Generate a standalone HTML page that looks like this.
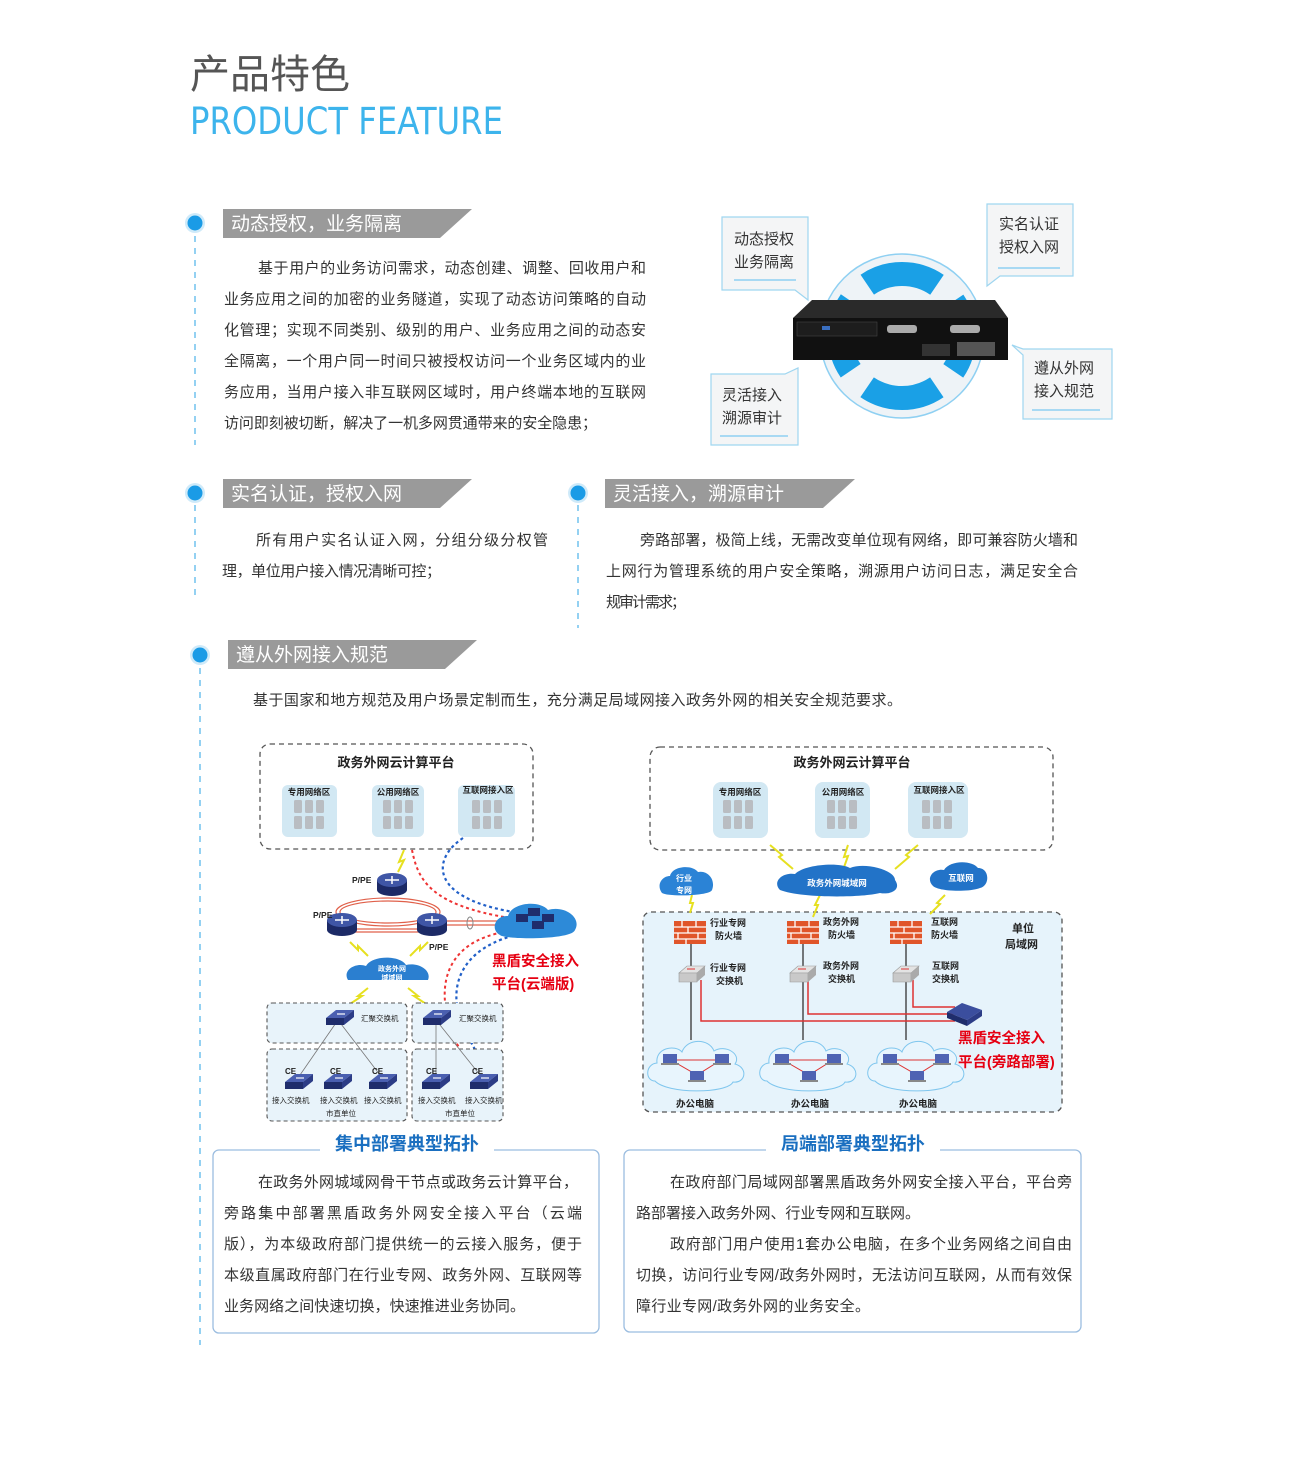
<!DOCTYPE html>
<html><head><meta charset="utf-8"><style>
html,body{margin:0;padding:0;background:#fff}
svg{display:block}
text{font-family:"Liberation Sans","Noto Sans CJK SC",sans-serif}
.p{font-size:15px;fill:#333}
.h{font-size:19px;fill:#fff}
.b{font-weight:bold}
</style></head><body>
<svg width="1300" height="1467" viewBox="0 0 1300 1467" xmlns="http://www.w3.org/2000/svg">
<defs>
 <g id="dot"><circle r="10" fill="#cfeaf9"/><circle r="7.5" fill="#1a9be6"/></g>
 <g id="srv">
  <rect x="0" y="0" width="8" height="13" rx="1.5" fill="#b9bdc2"/><rect x="11" y="0" width="8" height="13" rx="1.5" fill="#b9bdc2"/><rect x="22" y="0" width="8" height="13" rx="1.5" fill="#b9bdc2"/>
  <rect x="0" y="16" width="8" height="13" rx="1.5" fill="#b9bdc2"/><rect x="11" y="16" width="8" height="13" rx="1.5" fill="#b9bdc2"/><rect x="22" y="16" width="8" height="13" rx="1.5" fill="#b9bdc2"/>
 </g>
 <g id="router"><rect x="-15" y="-4" width="30" height="10" fill="#1c2a66"/><ellipse cx="0" cy="6" rx="15" ry="6" fill="#1c2a66"/><ellipse cx="0" cy="-4" rx="15" ry="7" fill="#3f56a6"/><path d="M-7 -4h14M0 -8v8" stroke="#fff" stroke-width="1.5"/></g>
 <g id="sw"><path d="M-14 -2 L-4 -10 L14 -10 L4 -2Z" fill="#4a5fb0"/><path d="M-14 -2 L4 -2 L4 5 L-14 5Z" fill="#1f2d6c"/><path d="M4 -2 L14 -10 L14 -3 L4 5Z" fill="#2c3c86"/><path d="M-3 -6h8" stroke="#fff" stroke-width="1.2"/></g>
 <g id="fw"><rect x="0" y="0" width="32" height="23" fill="#e0552a"/><path d="M0 6h32M0 12h32M0 18h32M8 0v6M22 0v6M14 6v6M4 12v6M24 12v6M12 18v5" stroke="#fff" stroke-width="1.3"/></g>
 <g id="gsw"><path d="M-13 -3 L-5 -10 L13 -10 L5 -3Z" fill="#e3e3e3" stroke="#999" stroke-width=".6"/><path d="M-13 -3 H5 V6 H-13Z" fill="#c9c9c9" stroke="#999" stroke-width=".6"/><path d="M5 -3 L13 -10 V-1 L5 6Z" fill="#aaa"/><path d="M-5 -7h8" stroke="#d33" stroke-width="1"/></g>
 <g id="cloudpc"><path d="M-42 15 C-52 15 -52 -2 -40 -3 C-42 -18 -22 -22 -15 -14 C-10 -28 12 -28 17 -15 C28 -22 45 -12 38 -2 C52 2 48 18 36 16 C30 28 -30 28 -42 15Z" fill="#e8f5fd" stroke="#7fc6ee" stroke-width="1"/>
  <path d="M-26 -6 L24 -6 L0 9Z" fill="none" stroke="#d33" stroke-width="1"/>
  <rect x="-34" y="-12" width="14" height="9" fill="#4f63b3"/><rect x="18" y="-12" width="14" height="9" fill="#4f63b3"/><rect x="-7" y="5" width="14" height="9" fill="#4f63b3"/>
  <rect x="-36" y="-3" width="18" height="2" fill="#888"/><rect x="16" y="-3" width="18" height="2" fill="#888"/><rect x="-9" y="14" width="18" height="2" fill="#888"/></g>
</defs>

<!-- Title -->
<text x="190" y="88" font-size="40" fill="#555">产品特色</text>
<text x="190" y="134" font-size="37" fill="#3db4ec" textLength="313" lengthAdjust="spacingAndGlyphs" style="font-family:'DejaVu Sans',sans-serif">PRODUCT FEATURE</text>

<!-- dashed vertical guides -->
<g stroke="#5bb8ea" stroke-width="1.3" stroke-dasharray="6,6">
<line x1="195" y1="236" x2="195" y2="445"/>
<line x1="195" y1="505" x2="195" y2="595"/>
<line x1="578" y1="505" x2="578" y2="628"/>
<line x1="200" y1="668" x2="200" y2="1345"/>
</g>
<use href="#dot" x="195" y="223"/><use href="#dot" x="195" y="493"/><use href="#dot" x="578" y="493"/><use href="#dot" x="200" y="655"/>

<!-- section headers -->
<path d="M223 209 H472 L440 238 H223Z" fill="#9a9a9a"/>
<text x="231" y="230" class="h">动态授权，业务隔离</text>
<path d="M223 479 H472 L440 508 H223Z" fill="#9a9a9a"/>
<text x="231" y="500" class="h">实名认证，授权入网</text>
<path d="M605 479 H855 L823 508 H605Z" fill="#9a9a9a"/>
<text x="613" y="500" class="h">灵活接入，溯源审计</text>
<path d="M228 640 H477 L445 669 H228Z" fill="#9a9a9a"/>
<text x="236" y="661" class="h">遵从外网接入规范</text>

<!-- paragraph 1 -->
<g class="p">
<text x="258" y="273" textLength="388">基于用户的业务访问需求，动态创建、调整、回收用户和</text>
<text x="224" y="304" textLength="422">业务应用之间的加密的业务隧道，实现了动态访问策略的自动</text>
<text x="224" y="335" textLength="422">化管理；实现不同类别、级别的用户、业务应用之间的动态安</text>
<text x="224" y="366" textLength="422">全隔离，一个用户同一时间只被授权访问一个业务区域内的业</text>
<text x="224" y="397" textLength="422">务应用，当用户接入非互联网区域时，用户终端本地的互联网</text>
<text x="224" y="428" textLength="373">访问即刻被切断，解决了一机多网贯通带来的安全隐患；</text>
<text x="256" y="545" textLength="292">所有用户实名认证入网，分组分级分权管</text>
<text x="222" y="576" textLength="219">理，单位用户接入情况清晰可控；</text>
<text x="640" y="545" textLength="438">旁路部署，极简上线，无需改变单位现有网络，即可兼容防火墙和</text>
<text x="606" y="576" textLength="472">上网行为管理系统的用户安全策略，溯源用户访问日志，满足安全合</text>
<text x="606" y="607" textLength="80">规审计需求；</text>
<text x="253" y="705" textLength="649">基于国家和地方规范及用户场景定制而生，充分满足局域网接入政务外网的相关安全规范要求。</text>
</g>

<!-- top right graphic -->
<circle cx="902" cy="336" r="82" fill="#eef3f7" stroke="#8fd0f2" stroke-width="1.5"/>
<circle cx="902" cy="336" r="62" fill="none" stroke="#1aa0e6" stroke-width="24" stroke-dasharray="74 23.4" stroke-dashoffset="37"/>
<circle cx="902" cy="336" r="48" fill="#eef3f7"/>
<path d="M793 318 L812 300 H995 L1008 318 Z" fill="#2a2a2a"/>
<rect x="793" y="318" width="215" height="42" fill="#111"/>
<rect x="797" y="322" width="80" height="14" fill="#1d1d1d" stroke="#444" stroke-width=".6"/>
<rect x="822" y="326" width="8" height="4" fill="#3a6fc0"/>
<rect x="887" y="325" width="30" height="8" rx="3" fill="#aaa"/><rect x="950" y="325" width="30" height="8" rx="3" fill="#aaa"/>
<rect x="957" y="342" width="38" height="14" fill="#555"/><rect x="922" y="344" width="28" height="12" fill="#333"/>
<g fill="#f4f5f6" stroke="#9fd6f0" stroke-width="1.2">
<path d="M722 217 H808 V300 L795 290 H722Z"/>
<path d="M987 204 H1073 V276 H1000 L987 286Z"/>
<path d="M1023 349 H1112 V419 H1023 V355 L1012 345Z"/>
<path d="M711 374 H785 L798 368 V445 H711Z"/>
</g>
<g stroke="#8fd0f2" stroke-width="1.5"><line x1="734" y1="280" x2="796" y2="280"/><line x1="998" y1="268" x2="1060" y2="268"/><line x1="1032" y1="410" x2="1100" y2="410"/><line x1="720" y1="436" x2="788" y2="436"/></g>
<g font-size="15" fill="#333">
<text x="734" y="244">动态授权</text><text x="734" y="267">业务隔离</text>
<text x="999" y="229">实名认证</text><text x="999" y="252">授权入网</text>
<text x="1034" y="373">遵从外网</text><text x="1034" y="396">接入规范</text>
<text x="722" y="400">灵活接入</text><text x="722" y="423">溯源审计</text>
</g>

<!-- LEFT DIAGRAM -->
<rect x="260" y="744" width="273" height="105" rx="10" fill="none" stroke="#555" stroke-width="1.3" stroke-dasharray="5,4"/>
<text x="396" y="767" font-size="13" class="b" text-anchor="middle" fill="#222">政务外网云计算平台</text>
<g fill="#d2e8f3"><rect x="282" y="785" width="55" height="52" rx="6"/><rect x="372" y="785" width="52" height="52" rx="6"/><rect x="458" y="785" width="57" height="52" rx="6"/></g>
<g font-size="8.5" class="b" fill="#222" text-anchor="middle"><text x="309" y="795">专用网络区</text><text x="398" y="795">公用网络区</text><text x="488" y="793">互联网接入区</text></g>
<use href="#srv" x="294" y="800"/><use href="#srv" x="383" y="800"/><use href="#srv" x="472" y="800"/>
<g fill="none" stroke="#e0604a" stroke-width="1.2">
<ellipse cx="388" cy="912" rx="52" ry="14"/><ellipse cx="388" cy="912" rx="48" ry="11"/>
<line x1="447" y1="921" x2="515" y2="921"/><line x1="447" y1="925" x2="515" y2="925"/>
<line x1="340" y1="929" x2="432" y2="929"/><line x1="340" y1="932" x2="432" y2="932"/>
</g>
<ellipse cx="470" cy="923" rx="3" ry="6" fill="none" stroke="#888"/>
<path d="M412 850 C418 880 430 905 510 918" fill="none" stroke="#e33" stroke-width="2" stroke-dasharray="3,3"/>
<path d="M463 838 C430 860 430 900 520 913" fill="none" stroke="#2260c8" stroke-width="2.2" stroke-dasharray="3,3"/>
<path d="M520 930 C450 935 430 980 455 1040 C465 1060 480 1080 482 1090" fill="none" stroke="#e33" stroke-width="2" stroke-dasharray="3,3"/>
<path d="M525 933 C460 945 440 990 470 1040 C480 1060 490 1075 487 1090" fill="none" stroke="#2260c8" stroke-width="2.2" stroke-dasharray="3,3"/>
<g fill="none" stroke="#e6e020" stroke-width="2"><path d="M404 850 l-5 12 5 -2 -6 12"/><path d="M350 942 l8 8 0 -4 10 10"/><path d="M428 942 l-8 8 0 -4 -10 10"/><path d="M368 988 l-10 8 4 0 -12 8"/><path d="M408 988 l10 8 -4 0 12 8"/></g>
<use href="#router" x="392" y="884"/><use href="#router" x="342" y="924"/><use href="#router" x="432" y="924"/>
<g font-size="8.5" fill="#222" class="b"><text x="352" y="883">P/PE</text><text x="313" y="918">P/PE</text><text x="429" y="950">P/PE</text></g>
<path d="M348 980 C342 970 356 962 366 966 C372 955 400 955 406 965 C418 962 432 970 428 980 Z" fill="#2b7fd0"/>
<text x="392" y="971" font-size="7" fill="#fff" text-anchor="middle" class="b">政务外网</text><text x="392" y="980" font-size="7" fill="#fff" text-anchor="middle" class="b">域域网</text>
<path d="M500 935 C490 930 495 915 508 916 C512 902 540 900 548 910 C565 905 582 918 575 930 C572 940 505 940 500 935Z" fill="#2d8ad8"/>
<rect x="528" y="908" width="12" height="8" fill="#1f2d6c"/><rect x="542" y="914" width="12" height="8" fill="#1f2d6c"/><rect x="532" y="921" width="12" height="8" fill="#1f2d6c"/><rect x="516" y="914" width="12" height="8" fill="#1f2d6c"/>
<text x="492" y="966" font-size="14.5" fill="#e60012" class="b">黑盾安全接入</text>
<text x="492" y="989" font-size="14.5" fill="#e60012" class="b">平台(云端版)</text>
<g fill="#e8f3fa" stroke="#555" stroke-width="1.1" stroke-dasharray="4,3">
<rect x="267" y="1003" width="140" height="40" rx="5"/><rect x="412" y="1003" width="91" height="40" rx="5"/>
<rect x="267" y="1049" width="140" height="72" rx="5"/><rect x="412" y="1049" width="91" height="72" rx="5"/>
</g>
<g stroke="#777" stroke-width=".8"><line x1="338" y1="1020" x2="300" y2="1075"/><line x1="338" y1="1020" x2="380" y2="1075"/><line x1="436" y1="1020" x2="436" y2="1075"/><line x1="436" y1="1020" x2="480" y2="1075"/></g>
<use href="#sw" x="340" y="1020"/><use href="#sw" x="437" y="1020"/>
<g font-size="7.5" fill="#222"><text x="361" y="1021">汇聚交换机</text><text x="459" y="1021">汇聚交换机</text></g>
<use href="#sw" x="299" y="1084"/><use href="#sw" x="338" y="1084"/><use href="#sw" x="383" y="1084"/><use href="#sw" x="436" y="1084"/><use href="#sw" x="484" y="1084"/>
<g font-size="8" fill="#222" class="b"><text x="285" y="1074">CE</text><text x="330" y="1074">CE</text><text x="372" y="1074">CE</text><text x="426" y="1074">CE</text><text x="472" y="1074">CE</text></g>
<g font-size="7.5" fill="#222"><text x="272" y="1103">接入交换机</text><text x="320" y="1103">接入交换机</text><text x="364" y="1103">接入交换机</text><text x="418" y="1103">接入交换机</text><text x="465" y="1103">接入交换机</text>
<text x="326" y="1116">市直单位</text><text x="445" y="1116">市直单位</text></g>

<!-- RIGHT DIAGRAM -->
<rect x="650" y="747" width="403" height="103" rx="10" fill="none" stroke="#555" stroke-width="1.3" stroke-dasharray="5,4"/>
<text x="852" y="767" font-size="13" class="b" text-anchor="middle" fill="#222">政务外网云计算平台</text>
<g fill="#d2e8f3"><rect x="713" y="782" width="55" height="56" rx="8"/><rect x="815" y="782" width="55" height="56" rx="8"/><rect x="908" y="782" width="60" height="56" rx="8"/></g>
<g font-size="8.5" class="b" fill="#222" text-anchor="middle"><text x="740" y="795">专用网络区</text><text x="843" y="795">公用网络区</text><text x="939" y="793">互联网接入区</text></g>
<use href="#srv" x="723" y="800"/><use href="#srv" x="827" y="800"/><use href="#srv" x="922" y="800"/>
<rect x="643" y="912" width="419" height="200" rx="8" fill="#e6f3fb" stroke="#555" stroke-width="1.3" stroke-dasharray="5,4"/>
<g fill="none" stroke="#e6e020" stroke-width="2"><path d="M770 845 l12 10 -3 2 14 12"/><path d="M848 845 l-4 12 4 -1 -5 14"/><path d="M918 845 l-12 10 3 2 -14 12"/><path d="M692 895 l-2 8 3 0 -3 10"/><path d="M820 895 l-5 10 3 0 -5 12"/><path d="M945 895 l-8 8 3 1 -10 10"/></g>
<path d="M780 890 C772 882 782 872 795 874 C805 864 840 862 850 868 C865 862 895 870 895 880 C902 890 890 895 880 893 C860 898 800 898 780 890Z" fill="#2273c8"/>
<text x="837" y="886" font-size="8.5" fill="#fff" text-anchor="middle" class="b">政务外网城域网</text>
<path d="M662 893 C656 885 662 876 670 876 C672 866 692 864 698 872 C708 870 716 880 712 890 C710 896 668 897 662 893Z" fill="#2b83d6"/>
<text x="684" y="881" font-size="8" fill="#fff" text-anchor="middle" class="b">行业</text><text x="684" y="893" font-size="8" fill="#fff" text-anchor="middle" class="b">专网</text>
<path d="M933 886 C925 878 934 868 944 870 C950 860 972 860 978 868 C990 868 990 886 980 888 C970 892 940 892 933 886Z" fill="#2273c8"/>
<text x="961" y="881" font-size="8.5" fill="#fff" text-anchor="middle" class="b">互联网</text>
<g stroke="#333" stroke-width="1.3"><line x1="691" y1="940" x2="691" y2="1040"/><line x1="803" y1="940" x2="803" y2="1040"/><line x1="906" y1="940" x2="906" y2="1040"/></g>
<g fill="none" stroke="#d33" stroke-width="1.5"><path d="M701 980 V1021 H955"/><path d="M808 980 V1014 H955"/><path d="M913 980 V1007 H955"/></g>
<use href="#fw" x="674" y="921"/><use href="#fw" x="787" y="921"/><use href="#fw" x="890" y="921"/>
<use href="#gsw" x="692" y="976"/><use href="#gsw" x="803" y="976"/><use href="#gsw" x="906" y="976"/>
<path d="M947 1012 L962 1003 L982 1010 L967 1020Z" fill="#3b4e9e"/><path d="M947 1012 L967 1020 L967 1026 L947 1018Z" fill="#1f2d6c"/><path d="M967 1020 L982 1010 V1016 L967 1026Z" fill="#2c3c86"/>
<g font-size="9" fill="#222" class="b">
<text x="710" y="926">行业专网</text><text x="715" y="939">防火墙</text>
<text x="823" y="925">政务外网</text><text x="828" y="938">防火墙</text>
<text x="931" y="925">互联网</text><text x="931" y="938">防火墙</text>
<text x="710" y="971">行业专网</text><text x="716" y="984">交换机</text>
<text x="823" y="969">政务外网</text><text x="828" y="982">交换机</text>
<text x="932" y="969">互联网</text><text x="932" y="982">交换机</text>
<text x="1012" y="932" font-size="11">单位</text><text x="1005" y="948" font-size="11">局域网</text>
</g>
<text x="958" y="1043" font-size="14.5" fill="#e60012" class="b">黑盾安全接入</text>
<text x="958" y="1067" font-size="14.5" fill="#e60012" class="b">平台(旁路部署)</text>
<use href="#cloudpc" x="697" y="1066"/><use href="#cloudpc" x="809" y="1066"/><use href="#cloudpc" x="917" y="1066"/>
<g font-size="9.5" fill="#222" class="b" text-anchor="middle"><text x="695" y="1107">办公电脑</text><text x="810" y="1107">办公电脑</text><text x="918" y="1107">办公电脑</text></g>

<!-- bottom boxes -->
<rect x="213" y="1150" width="386" height="183" rx="6" fill="none" stroke="#9bbde0" stroke-width="1.3"/>
<rect x="320" y="1140" width="174" height="20" fill="#fff"/>
<text x="407" y="1150" font-size="18" fill="#1a6fc0" class="b" text-anchor="middle">集中部署典型拓扑</text>
<rect x="624" y="1150" width="457" height="182" rx="6" fill="none" stroke="#9bbde0" stroke-width="1.3"/>
<rect x="766" y="1140" width="174" height="20" fill="#fff"/>
<text x="853" y="1150" font-size="18" fill="#1a6fc0" class="b" text-anchor="middle">局端部署典型拓扑</text>
<g class="p">
<text x="258" y="1187" textLength="320">在政务外网城域网骨干节点或政务云计算平台，</text>
<text x="224" y="1218" textLength="358">旁路集中部署黑盾政务外网安全接入平台（云端</text>
<text x="224" y="1249" textLength="358">版），为本级政府部门提供统一的云接入服务，便于</text>
<text x="224" y="1280" textLength="358">本级直属政府部门在行业专网、政务外网、互联网等</text>
<text x="224" y="1311" textLength="301">业务网络之间快速切换，快速推进业务协同。</text>
<text x="670" y="1187" textLength="402">在政府部门局域网部署黑盾政务外网安全接入平台，平台旁</text>
<text x="636" y="1218" textLength="284">路部署接入政务外网、行业专网和互联网。</text>
<text x="670" y="1249" textLength="402">政府部门用户使用1套办公电脑，在多个业务网络之间自由</text>
<text x="636" y="1280" textLength="436">切换，访问行业专网/政务外网时，无法访问互联网，从而有效保</text>
<text x="636" y="1311" textLength="234">障行业专网/政务外网的业务安全。</text>
</g>
</svg>
</body></html>
